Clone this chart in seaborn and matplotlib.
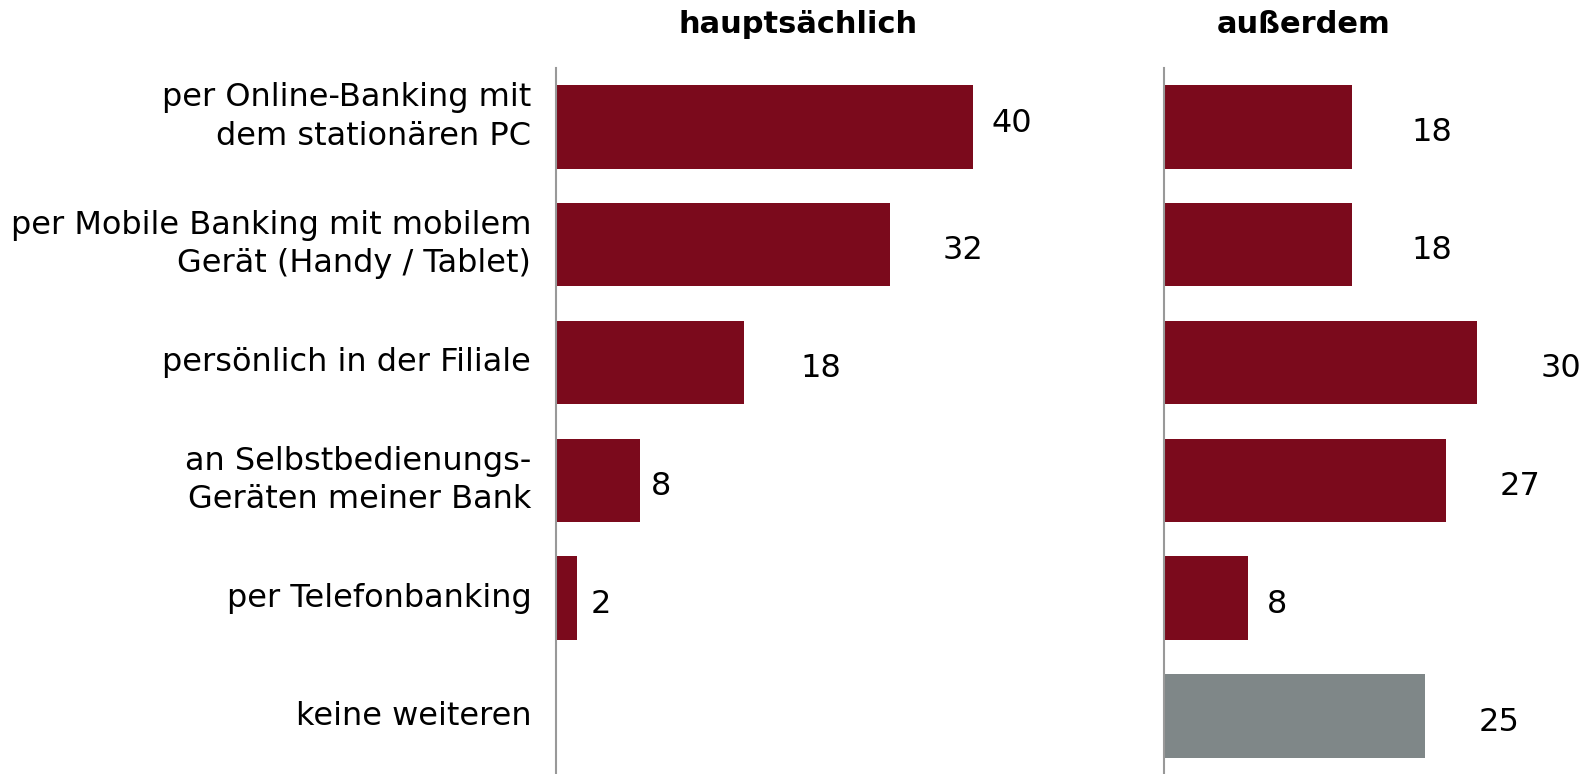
import pandas as pd
import seaborn as sns
import matplotlib.pyplot as plt

# ------------------------------------------------
# Data
# ------------------------------------------------
categories = [
    "per Online-Banking mit\ndem stationären PC",
    "per Mobile Banking mit mobilem\nGerät (Handy / Tablet)",
    "persönlich in der Filiale",
    "an Selbstbedienungs-\nGeräten meiner Bank",
    "per Telefonbanking",
    "keine weiteren",
]
hauptsaechlich = [40, 32, 18, 8, 2, None]
ausserdem = [18, 18, 30, 27, 8, 25]
titles = ["hauptsächlich", "außerdem"]

# label centres (data units) as placed in the original
label_x_left = [43.7, 39.0, 25.4, 10.1, 4.3, None]
label_x_right = [25.7, 25.7, 38.1, 34.2, 10.8, 32.1]
label_dy_left = [-0.03, 0.05, 0.05, 0.05, 0.05, 0]
label_dy_right = [0.05, 0.05, 0.05, 0.05, 0.05, 0.05]
cat_dy = [7, 0, 0, 0, 0, 0]  # points, first category sits a bit higher

RED = "#7b0a1c"
GREY = "#7f8788"
colors_left = [RED] * 6
colors_right = [RED] * 5 + [GREY]

# layout measured on a 1568x765 view
W, H = 1568, 765
PX_PER_UNIT = 10.3

# ------------------------------------------------
# Plot
# ------------------------------------------------
sns.set_style("white")
plt.rcParams['font.family'] = ['DejaVu Sans']

fig = plt.figure(figsize=(15.86, 7.74), dpi=100)
ax1 = fig.add_axes([550 / W, 0, 570 / W, (H - 67) / H])
ax2 = fig.add_axes([1151 / W, 0, (W - 1151) / W, (H - 67) / H])


def panel(ax, values, colors, label_x, label_dy, xmax):
    df = pd.DataFrame({"cat": categories, "val": [v if v is not None else 0 for v in values]})
    sns.barplot(data=df, x="val", y="cat", hue="cat", order=categories,
                palette=dict(zip(categories, colors)), legend=False, saturation=1,
                width=0.71, linewidth=0, ax=ax, orient="h")
    ax.set_xlim(0, xmax)
    ax.set_ylim(5.49, -0.5)
    ax.set_xlabel("")
    ax.set_ylabel("")
    ax.set_xticks([])
    ax.set_yticklabels([])
    for s in ["top", "right", "bottom"]:
        ax.spines[s].set_visible(False)
    ax.spines["left"].set_color("#999999")
    ax.spines["left"].set_linewidth(1.5)
    ax.tick_params(axis="y", length=0)
    for i, (v, lx, dy) in enumerate(zip(values, label_x, label_dy)):
        if v is None:
            continue
        ax.text(lx, i + dy, f"{v}", ha="center", va="center", fontsize=23, color="black")


panel(ax1, hauptsaechlich, colors_left, label_x_left, label_dy_left, 570 / PX_PER_UNIT)
panel(ax2, ausserdem, colors_right, label_x_right, label_dy_right, (W - 1151) / PX_PER_UNIT)

for i, (cat, dy) in enumerate(zip(categories, cat_dy)):
    ax1.annotate(cat, xy=(0, i), xycoords=("axes fraction", "data"),
                 xytext=(-18, dy), textcoords="offset points",
                 ha="right", va="center", multialignment="right",
                 linespacing=1.3, fontsize=23, color="black")

fig.text(789 / W, 1 - 24 / H, titles[0], ha="center", va="center", fontsize=22, fontweight="bold", color="black")
fig.text(1289 / W, 1 - 24 / H, titles[1], ha="center", va="center", fontsize=22, fontweight="bold", color="black")

fig.savefig("out.png", dpi=100)
plt.close(fig)
